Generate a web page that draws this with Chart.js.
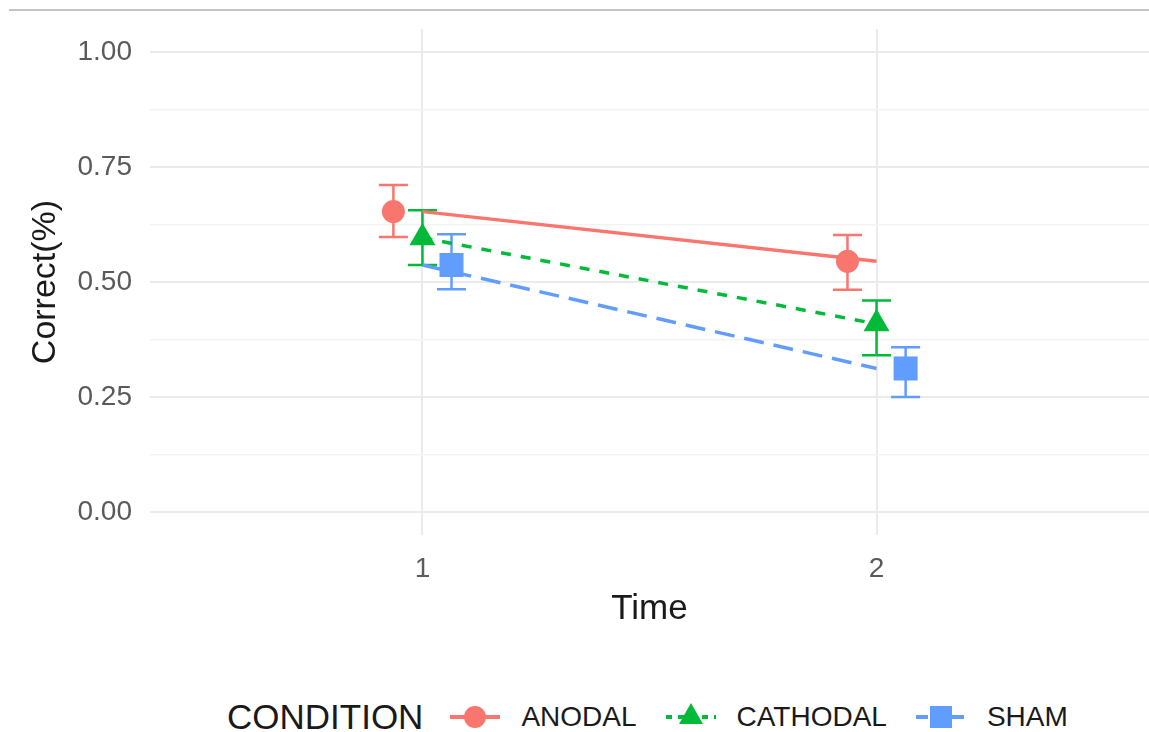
<!DOCTYPE html>
<html>
<head>
<meta charset="utf-8">
<script src="https://cdn.jsdelivr.net/npm/chart.js@4"></script>
<style>
  html, body { margin: 0; padding: 0; background: #fff; }
  body { width: 1149px; height: 732px; position: relative; overflow: hidden; font-family: "Liberation Sans", Arial, sans-serif; }
  #topline { position: absolute; top: 9px; left: 9px; right: 0; height: 2px; background: #c4c4c4; }
  #wrap { position: absolute; top: 0; left: 0; width: 1149px; height: 660px; }
  #legend { position: absolute; top: 696px; left: 227px; height: 42px; display: flex; align-items: center; color: #1a1a1a; }
  #legend .title { font-size: 35px; margin-right: 24px; }
  #legend .lab { font-size: 28px; margin-left: 18px; margin-right: 26px; }
  #legend svg { display: block; }
</style>
</head>
<body>
<div id="topline"></div>
<div id="wrap"><canvas id="chart" width="1149" height="660"></canvas></div>
<div id="legend"></div>
<script>
// values
const times = [1, 2];
const conditions = ['ANODAL', 'CATHODAL', 'SHAM'];
const colors = ['#F8766D', '#00BA38', '#619CFF'];
const dodge = [-0.064, 0, 0.064];

const anodalMean = [0.653, 0.545];
const anodalLo = [0.598, 0.483];
const anodalHi = [0.711, 0.602];

const cathodalMean = [0.596, 0.409];
const cathodalLo = [0.537, 0.341];
const cathodalHi = [0.656, 0.460];

const shamMean = [0.537, 0.312];
const shamLo = [0.484, 0.250];
const shamHi = [0.604, 0.358];

const yTicks = [0, 0.125, 0.25, 0.375, 0.5, 0.625, 0.75, 0.875, 1.0];
const yLabels = ['0.00', '', '0.25', '', '0.50', '', '0.75', '', '1.00'];

const means = [anodalMean, cathodalMean, shamMean];
const los = [anodalLo, cathodalLo, shamLo];
const his = [anodalHi, cathodalHi, shamHi];
const shapes = ['circle', 'triangle', 'rect'];
const radii = [11.5, 15, 17];
const dashes = [[], [10, 10], [20, 10]];

const FONT = '"Liberation Sans", Arial, sans-serif';

const datasets = [];
// lines (drawn on top, undodged like the ggplot geom_line)
conditions.forEach((c, i) => {
  datasets.push({
    type: 'line',
    label: c,
    data: times.map((t, j) => ({ x: t, y: means[i][j] })),
    borderColor: colors[i],
    borderWidth: 3.5,
    borderDash: dashes[i],
    pointRadius: 0,
    fill: false,
    order: 0
  });
});
// points (dodged)
conditions.forEach((c, i) => {
  datasets.push({
    type: 'scatter',
    label: c + ' mean',
    data: times.map((t, j) => ({ x: t + dodge[i], y: means[i][j] })),
    pointStyle: shapes[i],
    pointRadius: radii[i],
    backgroundColor: colors[i],
    borderColor: colors[i],
    borderWidth: 0,
    order: 1
  });
});

// error bars drawn through the chart's scales
const errorBars = {
  id: 'errorBars',
  beforeDatasetsDraw(chart) {
    const { ctx, scales: { x, y } } = chart;
    const capHalf = 0.032;
    ctx.save();
    ctx.lineWidth = 2.5;
    conditions.forEach((c, i) => {
      ctx.strokeStyle = colors[i];
      times.forEach((t, j) => {
        const xv = t + dodge[i];
        const px = x.getPixelForValue(xv);
        const pl = x.getPixelForValue(xv - capHalf);
        const pr = x.getPixelForValue(xv + capHalf);
        const pLo = y.getPixelForValue(los[i][j]);
        const pHi = y.getPixelForValue(his[i][j]);
        ctx.beginPath();
        ctx.moveTo(px, pLo); ctx.lineTo(px, pHi);
        ctx.moveTo(pl, pLo); ctx.lineTo(pr, pLo);
        ctx.moveTo(pl, pHi); ctx.lineTo(pr, pHi);
        ctx.stroke();
      });
    });
    ctx.restore();
  }
};

new Chart(document.getElementById('chart'), {
  type: 'scatter',
  data: { datasets },
  plugins: [errorBars],
  options: {
    responsive: false,
    animation: false,
    layout: { autoPadding: false, padding: { top: 29, right: 0, left: 0, bottom: 0 } },
    plugins: { legend: { display: false }, tooltip: { enabled: false } },
    scales: {
      x: {
        type: 'linear',
        min: 0.4,
        max: 2.6,
        afterBuildTicks(scale) { scale.ticks = times.map(v => ({ value: v })); },
        afterFit(scale) {
          scale.height = 125;
          scale.paddingLeft = 0;
          scale.paddingRight = 0;
        },
        border: { display: false },
        grid: { color: '#EBEBEB', lineWidth: 2, drawTicks: false },
        ticks: {
          padding: 17,
          color: '#5a5a5a',
          font: { family: FONT, size: 28 },
          callback: v => String(v)
        },
        title: {
          display: true,
          text: 'Time',
          color: '#1a1a1a',
          font: { family: FONT, size: 35 },
          padding: { top: 0, bottom: 30 }
        }
      },
      y: {
        type: 'linear',
        min: -0.05,
        max: 1.05,
        afterBuildTicks(scale) { scale.ticks = yTicks.map(v => ({ value: v })); },
        afterFit(scale) {
          scale.width = 150;
          scale.paddingTop = 0;
          scale.paddingBottom = 0;
        },
        border: { display: false },
        grid: {
          drawTicks: false,
          color: ctx => (ctx.index % 2 === 0 ? '#EBEBEB' : '#F3F3F3'),
          lineWidth: ctx => (ctx.index % 2 === 0 ? 2 : 1.5)
        },
        ticks: {
          padding: 18,
          color: '#5a5a5a',
          font: { family: FONT, size: 28 },
          callback: (v, idx) => yLabels[idx]
        },
        title: {
          display: true,
          text: 'Correct(%)',
          color: '#1a1a1a',
          font: { family: FONT, size: 34 },
          padding: { top: 25, bottom: 0 }
        }
      }
    }
  }
});

// legend in the ggplot bottom style
const legend = document.getElementById('legend');
const title = document.createElement('span');
title.className = 'title';
title.textContent = 'CONDITION';
legend.appendChild(title);
const keyShapes = [
  c => `<circle cx="28" cy="17" r="11" fill="${c}"/>`,
  c => `<polygon points="28,3 40,24 16,24" fill="${c}"/>`,
  c => `<rect x="17" y="6" width="22" height="22" fill="${c}"/>`
];
conditions.forEach((c, i) => {
  const ns = 'http://www.w3.org/2000/svg';
  const svg = document.createElementNS(ns, 'svg');
  svg.setAttribute('width', '56');
  svg.setAttribute('height', '34');
  const dash = dashes[i].length ? `stroke-dasharray="${dashes[i].map(d => d * 0.6).join(' ')}"` : '';
  svg.innerHTML = `<line x1="3" y1="17" x2="53" y2="17" stroke="${colors[i]}" stroke-width="4" ${dash}/>` + keyShapes[i](colors[i]);
  legend.appendChild(svg);
  const lab = document.createElement('span');
  lab.className = 'lab';
  lab.textContent = c;
  legend.appendChild(lab);
});
</script>
</body>
</html>
